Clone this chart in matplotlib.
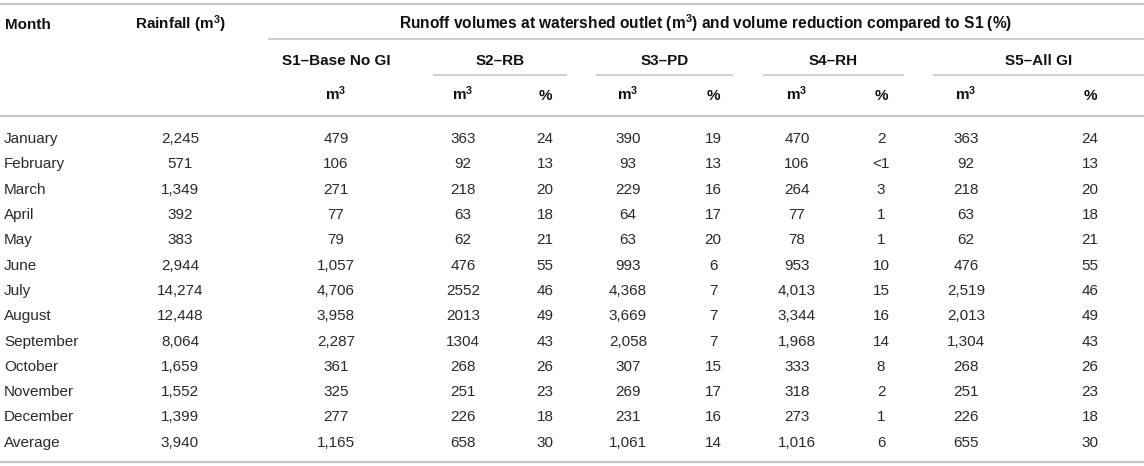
import matplotlib
matplotlib.use("Agg")
import matplotlib.pyplot as plt

plt.rcParams['font.family'] = ['Liberation Sans', 'DejaVu Sans']
plt.rcParams['mathtext.fontset'] = 'custom'
plt.rcParams['mathtext.rm'] = 'Liberation Sans'
plt.rcParams['mathtext.bf'] = 'Liberation Sans:bold'

# table data (kept as text, the source mixes "2552" and "2,519")
months = ["January", "February", "March", "April", "May", "June", "July",
          "August", "September", "October", "November", "December", "Average"]
rainfall = ["2,245", "571", "1,349", "392", "383", "2,944", "14,274",
            "12,448", "8,064", "1,659", "1,552", "1,399", "3,940"]
s1_m3 = ["479", "106", "271", "77", "79", "1,057", "4,706", "3,958",
         "2,287", "361", "325", "277", "1,165"]
s2_m3 = ["363", "92", "218", "63", "62", "476", "2552", "2013", "1304",
         "268", "251", "226", "658"]
s2_pct = ["24", "13", "20", "18", "21", "55", "46", "49", "43", "26",
          "23", "18", "30"]
s3_m3 = ["390", "93", "229", "64", "63", "993", "4,368", "3,669", "2,058",
         "307", "269", "231", "1,061"]
s3_pct = ["19", "13", "16", "17", "20", "6", "7", "7", "7", "15", "17",
          "16", "14"]
s4_m3 = ["470", "106", "264", "77", "78", "953", "4,013", "3,344", "1,968",
         "333", "318", "273", "1,016"]
s4_pct = ["2", "<1", "3", "1", "1", "10", "15", "16", "14", "8", "2", "1",
          "6"]
s5_m3 = ["363", "92", "218", "63", "62", "476", "2,519", "2,013", "1,304",
         "268", "251", "226", "655"]
s5_pct = ["24", "13", "20", "18", "21", "55", "46", "49", "43", "26", "23",
          "18", "30"]

scenarios = ["S1\u2013Base No GI", "S2\u2013RB", "S3\u2013PD", "S4\u2013RH",
             "S5\u2013All GI"]
M3 = r"$\mathbf{m^{3}}$"
title = ("Runoff volumes at watershed outlet (" + M3 + ") and volume "
         "reduction compared to S1 (%)")

# layout in pixels
W, H = 1144, 466
line_col = "#c6c6c6"
body_col = "#2a2a2a"
head_col = "#111111"
fs = 11
cap = 4.8  # about half the cap height, puts baselines under row centres

fig = plt.figure(figsize=(W / 100, H / 100), dpi=100)
ax = fig.add_axes([0, 0, 1, 1])
ax.set_xlim(0, W)
ax.set_ylim(H, 0)
ax.axis("off")

# column centres for numbers
col_x = [180, 336, 463, 545, 628, 713, 797, 881, 966, 1090]
columns = [rainfall, s1_m3, s2_m3, s2_pct, s3_m3, s3_pct, s4_m3, s4_pct,
           s5_m3, s5_pct]
units = [M3, M3, "%", M3, "%", M3, "%", M3, "%"]

# horizontal rules
ax.plot([0, W], [4, 4], color=line_col, lw=1.6, solid_capstyle="butt")
ax.plot([0, W], [116, 116], color=line_col, lw=1.6, solid_capstyle="butt")
ax.plot([0, W], [462, 462], color=line_col, lw=1.6, solid_capstyle="butt")
ax.plot([268, W], [39, 39], color=line_col, lw=1.2, solid_capstyle="butt")
spans = [(433, 567), (596, 733), (763, 904), (933, W)]
for x0, x1 in spans:
    ax.plot([x0, x1], [75, 75], color=line_col, lw=1.2, solid_capstyle="butt")

# header
hd = dict(fontsize=fs, fontweight="bold", color=head_col, va="baseline")
ax.text(5, 24 + cap, "Month", ha="left", **hd)
ax.text(180, 24 + cap, "Rainfall (" + M3 + ")", ha="center", **hd)
ax.text(706, 24 + cap, title, ha="center", fontsize=fs + 0.2,
        fontweight="bold", color=head_col, va="baseline")

group_x = [336] + [(a + b) / 2 for a, b in spans]
for gx, name in zip(group_x, scenarios):
    ax.text(gx, 60 + cap, name, ha="center", **hd)
for ux, u in zip(col_x[1:], units):
    ax.text(ux, 95 + cap, u, ha="center", **hd)

# body rows
y0, dy = 138.3, 25.3
for i, m in enumerate(months):
    y = y0 + i * dy + cap
    ax.text(4, y, m, ha="left", va="baseline", fontsize=fs, color=body_col)
    for cx, col in zip(col_x, columns):
        ax.text(cx, y, col[i], ha="center", va="baseline", fontsize=fs,
                color=body_col)

fig.savefig("out.png", dpi=100)
